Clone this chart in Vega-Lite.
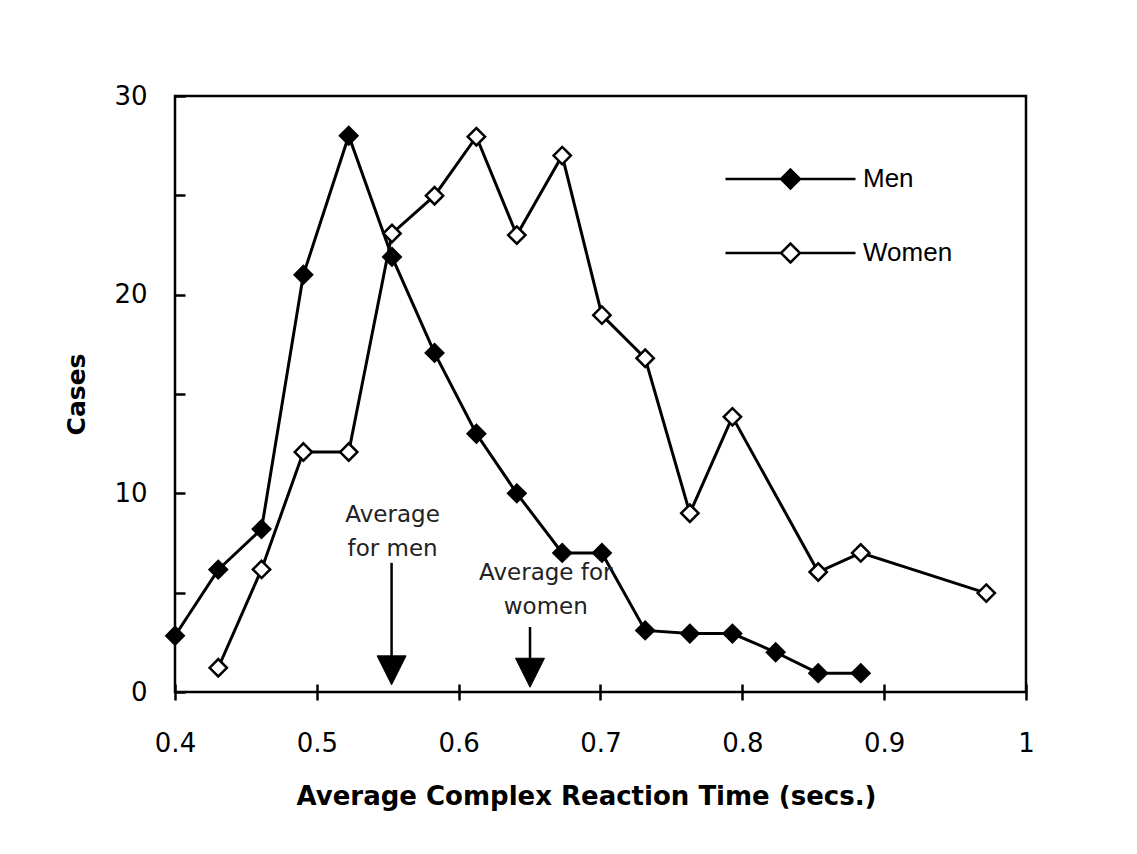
{
  "$schema": "https://vega.github.io/schema/vega-lite/v6.json",
  "width": 851,
  "height": 596,
  "autosize": {"type": "none"},
  "padding": {"left": 175, "top": 96, "right": 111, "bottom": 162},
  "background": "white",
  "config": {
    "view": {"stroke": "black", "strokeWidth": 2.5},
    "font": "DejaVu Sans"
  },
  "datasets": {
    "series": [
      {"series": "Men", "x": 0.4, "y": 2.83},
      {"series": "Men", "x": 0.4305, "y": 6.16},
      {"series": "Men", "x": 0.461, "y": 8.2},
      {"series": "Men", "x": 0.4905, "y": 21},
      {"series": "Men", "x": 0.5225, "y": 28},
      {"series": "Men", "x": 0.553, "y": 21.9},
      {"series": "Men", "x": 0.583, "y": 17.07},
      {"series": "Men", "x": 0.6125, "y": 13.0},
      {"series": "Men", "x": 0.641, "y": 10.0},
      {"series": "Men", "x": 0.673, "y": 7.0},
      {"series": "Men", "x": 0.701, "y": 7.0},
      {"series": "Men", "x": 0.7315, "y": 3.1},
      {"series": "Men", "x": 0.763, "y": 2.94},
      {"series": "Men", "x": 0.793, "y": 2.94},
      {"series": "Men", "x": 0.8235, "y": 2.0},
      {"series": "Men", "x": 0.8535, "y": 0.95},
      {"series": "Men", "x": 0.8835, "y": 0.95},
      {"series": "Women", "x": 0.4305, "y": 1.22},
      {"series": "Women", "x": 0.461, "y": 6.17},
      {"series": "Women", "x": 0.4905, "y": 12.08},
      {"series": "Women", "x": 0.5225, "y": 12.08},
      {"series": "Women", "x": 0.553, "y": 23.08},
      {"series": "Women", "x": 0.583, "y": 24.98},
      {"series": "Women", "x": 0.6125, "y": 27.95},
      {"series": "Women", "x": 0.641, "y": 23.0},
      {"series": "Women", "x": 0.673, "y": 27.0},
      {"series": "Women", "x": 0.701, "y": 18.97},
      {"series": "Women", "x": 0.7315, "y": 16.8},
      {"series": "Women", "x": 0.763, "y": 9.0},
      {"series": "Women", "x": 0.793, "y": 13.85},
      {"series": "Women", "x": 0.8535, "y": 6.04},
      {"series": "Women", "x": 0.8835, "y": 7.0},
      {"series": "Women", "x": 0.972, "y": 4.98}
    ],
    "shafts": [
      {"who": "men", "x": 0.5527, "y": 6.5, "y2": 1.6},
      {"who": "women", "x": 0.6503, "y": 3.27, "y2": 1.6}
    ],
    "heads": [
      {"who": "men", "x": 0.5527, "y": 1.09},
      {"who": "women", "x": 0.6503, "y": 0.97}
    ],
    "notes": [
      {"who": "men", "x": 0.5534, "y": 8.56, "text": ["Average", "for men"]},
      {"who": "women", "x": 0.6614, "y": 5.62, "text": ["Average for", "women"]}
    ]
  },
  "encoding": {
    "x": {
      "field": "x",
      "type": "quantitative",
      "scale": {"domain": [0.4, 1.0], "nice": false, "zero": false},
      "axis": {
        "title": "Average Complex Reaction Time (secs.)",
        "values": [0.4, 0.5, 0.6, 0.7, 0.8, 0.9, 1],
        "format": "~g",
        "domain": false,
        "grid": false,
        "offset": -8,
        "tickSize": 16,
        "tickWidth": 2.5,
        "tickColor": "black",
        "labelFont": "DejaVu Sans",
        "labelFontSize": 26,
        "labelColor": "black",
        "labelPadding": 30,
        "labelFlush": false,
        "titleFont": "DejaVu Sans",
        "titleFontSize": 26,
        "titleFontWeight": "bold",
        "titleColor": "black",
        "titlePadding": 27,
        "titleX": 411
      }
    },
    "y": {
      "field": "y",
      "type": "quantitative",
      "scale": {"domain": [0, 30], "nice": false},
      "axis": {
        "title": "Cases",
        "values": [0, 5, 10, 15, 20, 25, 30],
        "labelExpr": "datum.value % 10 == 0 ? datum.label : ''",
        "domain": false,
        "grid": false,
        "offset": -10,
        "tickSize": 10,
        "tickWidth": 2.5,
        "tickColor": "black",
        "labelFont": "DejaVu Sans",
        "labelFontSize": 26,
        "labelColor": "black",
        "labelPadding": 28,
        "labelFlush": false,
        "titleFont": "DejaVu Sans",
        "titleFontSize": 25,
        "titleFontWeight": "bold",
        "titleColor": "black",
        "titlePadding": 24
      }
    }
  },
  "layer": [
    {
      "data": {"name": "series"},
      "mark": {"type": "line", "stroke": "black", "strokeWidth": 3},
      "encoding": {"detail": {"field": "series", "type": "nominal"}}
    },
    {
      "data": {"name": "series"},
      "mark": {"type": "point", "shape": "diamond", "filled": true, "size": 300, "stroke": "black", "strokeWidth": 2.5, "opacity": 1},
      "encoding": {
        "fill": {
          "field": "series",
          "type": "nominal",
          "scale": {"domain": ["Men", "Women"], "range": ["#000000", "#ffffff"]},
          "legend": {
            "orient": "none",
            "legendX": 549,
            "legendY": 63,
            "title": null,
            "padding": 0,
            "symbolType": "M-1,0L-0.146,0M0.146,0L1,0M0,-0.146L0.146,0L0,0.146L-0.146,0Z",
            "symbolSize": 16900,
            "symbolStrokeColor": "black",
            "symbolStrokeWidth": 2.5,
            "symbolOpacity": 1,
            "clipHeight": 40,
            "labelFont": "Liberation Sans",
            "labelFontSize": 26,
            "labelColor": "black",
            "labelOffset": 6,
            "rowPadding": 34
          }
        }
      }
    },
    {
      "data": {"name": "shafts"},
      "mark": {"type": "rule", "stroke": "black", "strokeWidth": 2.5},
      "encoding": {"y2": {"field": "y2"}}
    },
    {
      "data": {"name": "heads"},
      "mark": {"type": "point", "shape": "M-1,-1L1,-1L0,1Z", "filled": true, "size": 841, "fill": "black", "stroke": "black", "strokeWidth": 1, "opacity": 1}
    },
    {
      "data": {"name": "notes"},
      "mark": {"type": "text", "font": "DejaVu Sans", "fontSize": 23, "color": "#222222", "align": "center", "baseline": "alphabetic", "lineHeight": 34},
      "encoding": {"text": {"field": "text"}}
    }
  ]
}
